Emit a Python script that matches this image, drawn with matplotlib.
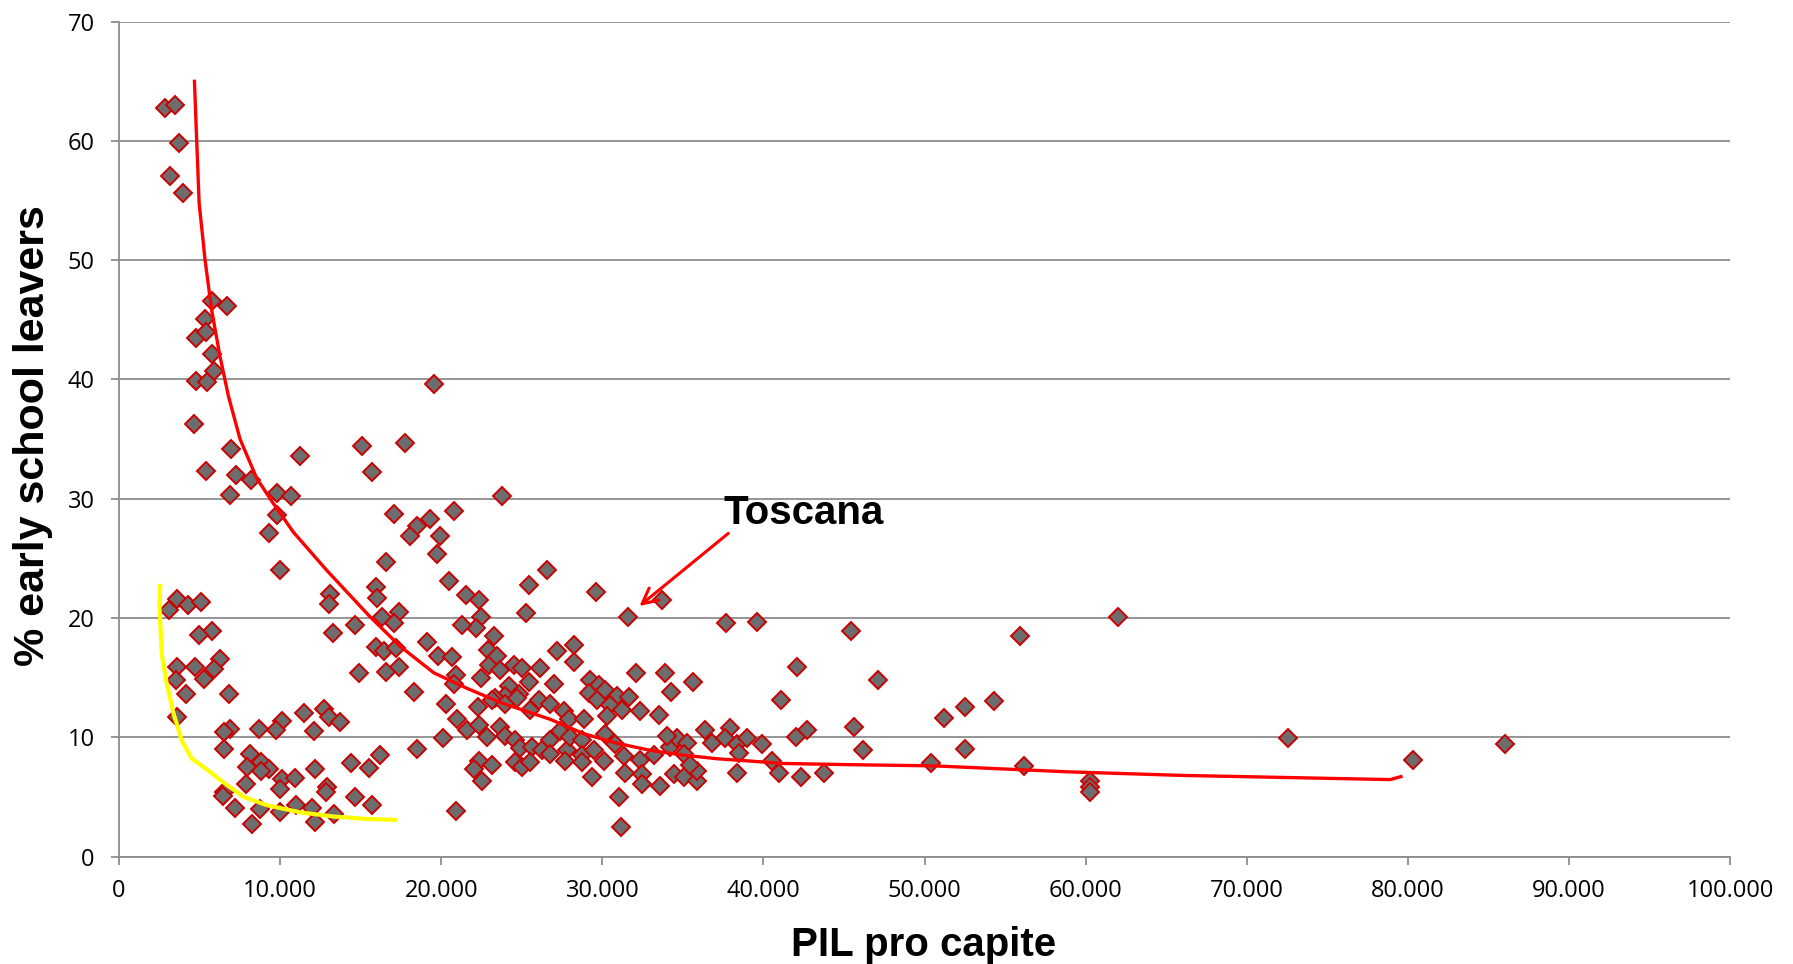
import matplotlib
matplotlib.use("Agg")
import matplotlib.pyplot as plt
from matplotlib.ticker import FuncFormatter, MultipleLocator

# PIL pro capite (euro) and % early school leavers, one entry per region
pil = [2860, 3480, 3750, 3170, 3950, 5760, 6690, 5340, 4760, 5400, 5760, 5900, 4780, 5490, 19570,
       4680, 6960, 5390, 7270, 8190, 6860, 9800, 10670, 9800, 9280, 10010, 11250, 15090, 15710, 17780,
       17060, 18510, 18090, 19300, 20790, 19920, 19710, 16600, 20480, 15980, 16020, 21510, 22340, 22450,
       22130, 21310, 17370, 17060, 16330, 13080, 13020, 14670, 13290,
       3590, 3130, 4250, 5080, 5760, 4970, 6280, 5870, 5290, 4730, 3590, 3520, 4170, 6800, 3590,
       19090, 19810, 20680, 15980, 16440, 17160, 17370, 16600, 14880, 20890, 20790, 22450, 22920, 22970,
       18300, 20270, 22300, 21000, 21600, 22340, 22860, 20120, 18510, 22340, 22030, 22500, 20890,
       11460, 12750, 13060, 13700, 10110, 9730, 8660, 6900, 6530, 12080, 6490, 8100, 8780, 9300, 7940,
       8780, 12190, 14400, 15500, 16190, 10110, 10940, 10010, 12910, 12870, 7880, 6490, 6450, 7170, 8730,
       9970, 11000, 12000, 13330, 14670, 15710, 8250, 12190,
       23770, 26560, 25470, 29600, 25280, 31600, 33700, 37700, 39600,
       23290, 23460, 24490, 23670, 25010, 26110, 27190, 28220, 28220, 32090, 33910, 35610, 34290, 42090,
       41060, 42710, 41990,
       24180, 24800, 25430, 23980, 23360, 26980, 29260, 29770, 30190, 30910, 31640, 29150, 29670, 30500,
       31220, 32360, 33500, 23150, 23980, 24700, 26050, 25530, 26770, 27600, 27910, 28840, 30290,
       23670, 23980, 24600, 24910, 25630, 26250, 26770, 27390, 27800, 28010, 28740, 28740, 29460, 30190,
       30810, 31330, 32360, 33190, 34220, 34640, 35260, 36400, 36810, 37950, 37640, 38370, 38990, 39920,
       40540, 40950, 42300, 43750,
       23150, 24600, 25010, 25530, 26770, 27700, 28740, 29360, 30080, 31430, 32470, 32470, 33600, 34430,
       35050, 35880, 35880, 31020, 31180, 38370, 38470, 34000, 35050, 35470,
       45410, 55900, 62000, 47100, 45610, 46190, 51200, 52500, 54300, 52500, 50420, 56200, 60300, 60300,
       60300, 72580, 80300, 86000]
esl = [62.8, 63.0, 59.8, 57.1, 55.6, 46.6, 46.2, 45.1, 43.5, 44.0, 42.1, 40.7, 39.9, 39.8, 39.6,
       36.3, 34.2, 32.3, 32.0, 31.6, 30.3, 30.5, 30.2, 28.6, 27.1, 24.0, 33.6, 34.4, 32.2, 34.7,
       28.7, 27.7, 26.9, 28.3, 29.0, 26.9, 25.4, 24.7, 23.1, 22.6, 21.7, 21.9, 21.5, 20.1,
       19.2, 19.4, 20.5, 19.6, 20.1, 22.0, 21.2, 19.4, 18.7,
       21.6, 20.7, 21.1, 21.3, 18.9, 18.6, 16.6, 15.7, 14.9, 15.9, 15.9, 14.8, 13.6, 13.6, 11.7,
       18.0, 16.8, 16.7, 17.6, 17.2, 17.5, 15.9, 15.5, 15.4, 15.2, 14.5, 15.0, 17.3, 16.1,
       13.8, 12.8, 12.5, 11.5, 10.6, 11.0, 10.0, 9.9, 9.0, 8.0, 7.3, 6.3, 3.8,
       12.0, 12.4, 11.7, 11.3, 11.4, 10.6, 10.7, 10.7, 10.4, 10.5, 9.0, 8.6, 7.9, 7.3, 7.5,
       7.2, 7.3, 7.8, 7.4, 8.5, 6.5, 6.6, 5.7, 5.8, 5.4, 6.1, 5.4, 5.1, 4.1, 4.0,
       3.7, 4.3, 4.1, 3.6, 5.0, 4.3, 2.7, 2.9,
       30.2, 24.0, 22.8, 22.2, 20.4, 20.1, 21.5, 19.6, 19.7,
       18.5, 16.8, 16.1, 15.6, 15.8, 15.8, 17.2, 17.7, 16.3, 15.4, 15.4, 14.6, 13.8, 15.9,
       13.1, 10.6, 10.0,
       14.3, 13.6, 14.6, 13.5, 13.3, 14.5, 14.8, 14.4, 14.0, 13.5, 13.4, 13.7, 13.1, 12.7,
       12.3, 12.2, 11.9, 13.1, 12.8, 13.3, 13.1, 12.3, 12.8, 12.2, 11.5, 11.5, 11.8,
       10.9, 10.1, 9.8, 9.1, 9.2, 8.9, 9.8, 10.5, 8.9, 10.0, 9.8, 8.5, 8.9, 10.3,
       9.4, 8.4, 8.1, 8.5, 9.2, 9.9, 9.5, 10.6, 9.5, 10.8, 9.9, 9.4, 9.9, 9.4,
       8.0, 7.0, 6.7, 7.0,
       7.7, 7.9, 7.5, 7.9, 8.6, 8.0, 7.9, 6.7, 8.0, 7.0, 6.9, 6.1, 5.9, 6.9,
       6.7, 6.3, 7.2, 5.0, 2.5, 7.0, 8.7, 10.1, 8.6, 7.7,
       18.9, 18.5, 20.1, 14.8, 10.9, 8.9, 11.6, 12.5, 13.0, 9.0, 7.8, 7.6, 6.3, 5.8,
       5.4, 9.9, 8.1, 9.4]

# red trend line
trend_x = [4680, 4820, 4970, 5340, 5750, 6270, 6790, 7510, 8550, 9580, 10820, 12890, 15580, 17470,
           19540, 21600, 23700, 26770, 28840, 30900, 32980, 35050, 37100, 39200, 41260, 45400, 50600,
           58900, 66000, 73400, 78900, 79570]
trend_y = [65.0, 60.0, 54.8, 50.0, 45.8, 41.9, 38.6, 35.0, 31.7, 29.6, 27.2, 24.0, 20.1, 17.6,
           15.4, 14.1, 12.9, 11.5, 10.3, 9.5, 8.9, 8.5, 8.2, 8.0, 7.8, 7.7, 7.6,
           7.1, 6.8, 6.6, 6.45, 6.7]

# yellow trend line
trend2_x = [2550, 2510, 2650, 2960, 3380, 3900, 4520, 5450, 6490, 7730, 9180, 11250, 13330, 15400, 17160]
trend2_y = [22.7, 20.9, 17.0, 14.5, 12.0, 9.7, 8.2, 7.3, 6.2, 5.0, 4.3, 3.7, 3.35, 3.15, 3.07]

toscana_xy = (32300, 21.0)
toscana_text = (37820, 27.1)

grey = '#8c8c8c'
tick_font = 'Open Sans'
label_font = 'Liberation Sans'

fig = plt.figure(figsize=(17.93, 9.64), dpi=100)
ax = fig.add_axes([0.0664, 0.1115, 0.8985, 0.8660])
ax.set_xlim(0, 100000)
ax.set_ylim(0, 70)
ax.xaxis.set_major_locator(MultipleLocator(10000))
ax.yaxis.set_major_locator(MultipleLocator(10))
ax.xaxis.set_major_formatter(FuncFormatter(lambda v, p: f"{v:,.0f}".replace(",", ".")))
ax.yaxis.set_major_formatter(FuncFormatter(lambda v, p: f"{v:.0f}"))

for s in ['top', 'right']:
    ax.spines[s].set_visible(False)
for s in ['left', 'bottom']:
    ax.spines[s].set_color(grey)
    ax.spines[s].set_linewidth(1.3)
ax.tick_params(axis='both', colors=grey, length=5.5, width=1.3, direction='out')
ax.tick_params(axis='x', pad=11, labelcolor='black', labelsize=17)
ax.tick_params(axis='y', pad=12, labelcolor='black', labelsize=17)
for lab in ax.get_xticklabels() + ax.get_yticklabels():
    lab.set_fontfamily(tick_font)

ax.grid(axis='y', color=grey, lw=1.3)
ax.set_axisbelow(True)

ax.plot(pil, esl, ls='none', marker='D', ms=8.7, mfc='#6d6d6d', mec='#cc0000', mew=1.4, zorder=3)
ax.plot(trend_x, trend_y, color='#ff0000', lw=2.4, zorder=4)
ax.plot(trend2_x, trend2_y, color='#ffff00', lw=3, zorder=4)

ax.annotate('', xy=toscana_xy, xytext=toscana_text,
            arrowprops=dict(arrowstyle='->', color='#ff0000', lw=2.2, mutation_scale=28,
                            shrinkA=0, shrinkB=0), zorder=5)
ax.text(42490, 27.88, 'Toscana', ha='center', va='baseline', fontsize=29,
        fontweight='bold', family=label_font, zorder=5)

fig.text(0.0184, 0.548, '% early school leavers', rotation=90, ha='center', va='center',
         fontsize=31, fontweight='bold', family=label_font)
fig.text(0.5153, 0.0083, 'PIL pro capite', ha='center', va='baseline',
         fontsize=29, fontweight='bold', family=label_font)

fig.savefig('out.png', dpi=100)
